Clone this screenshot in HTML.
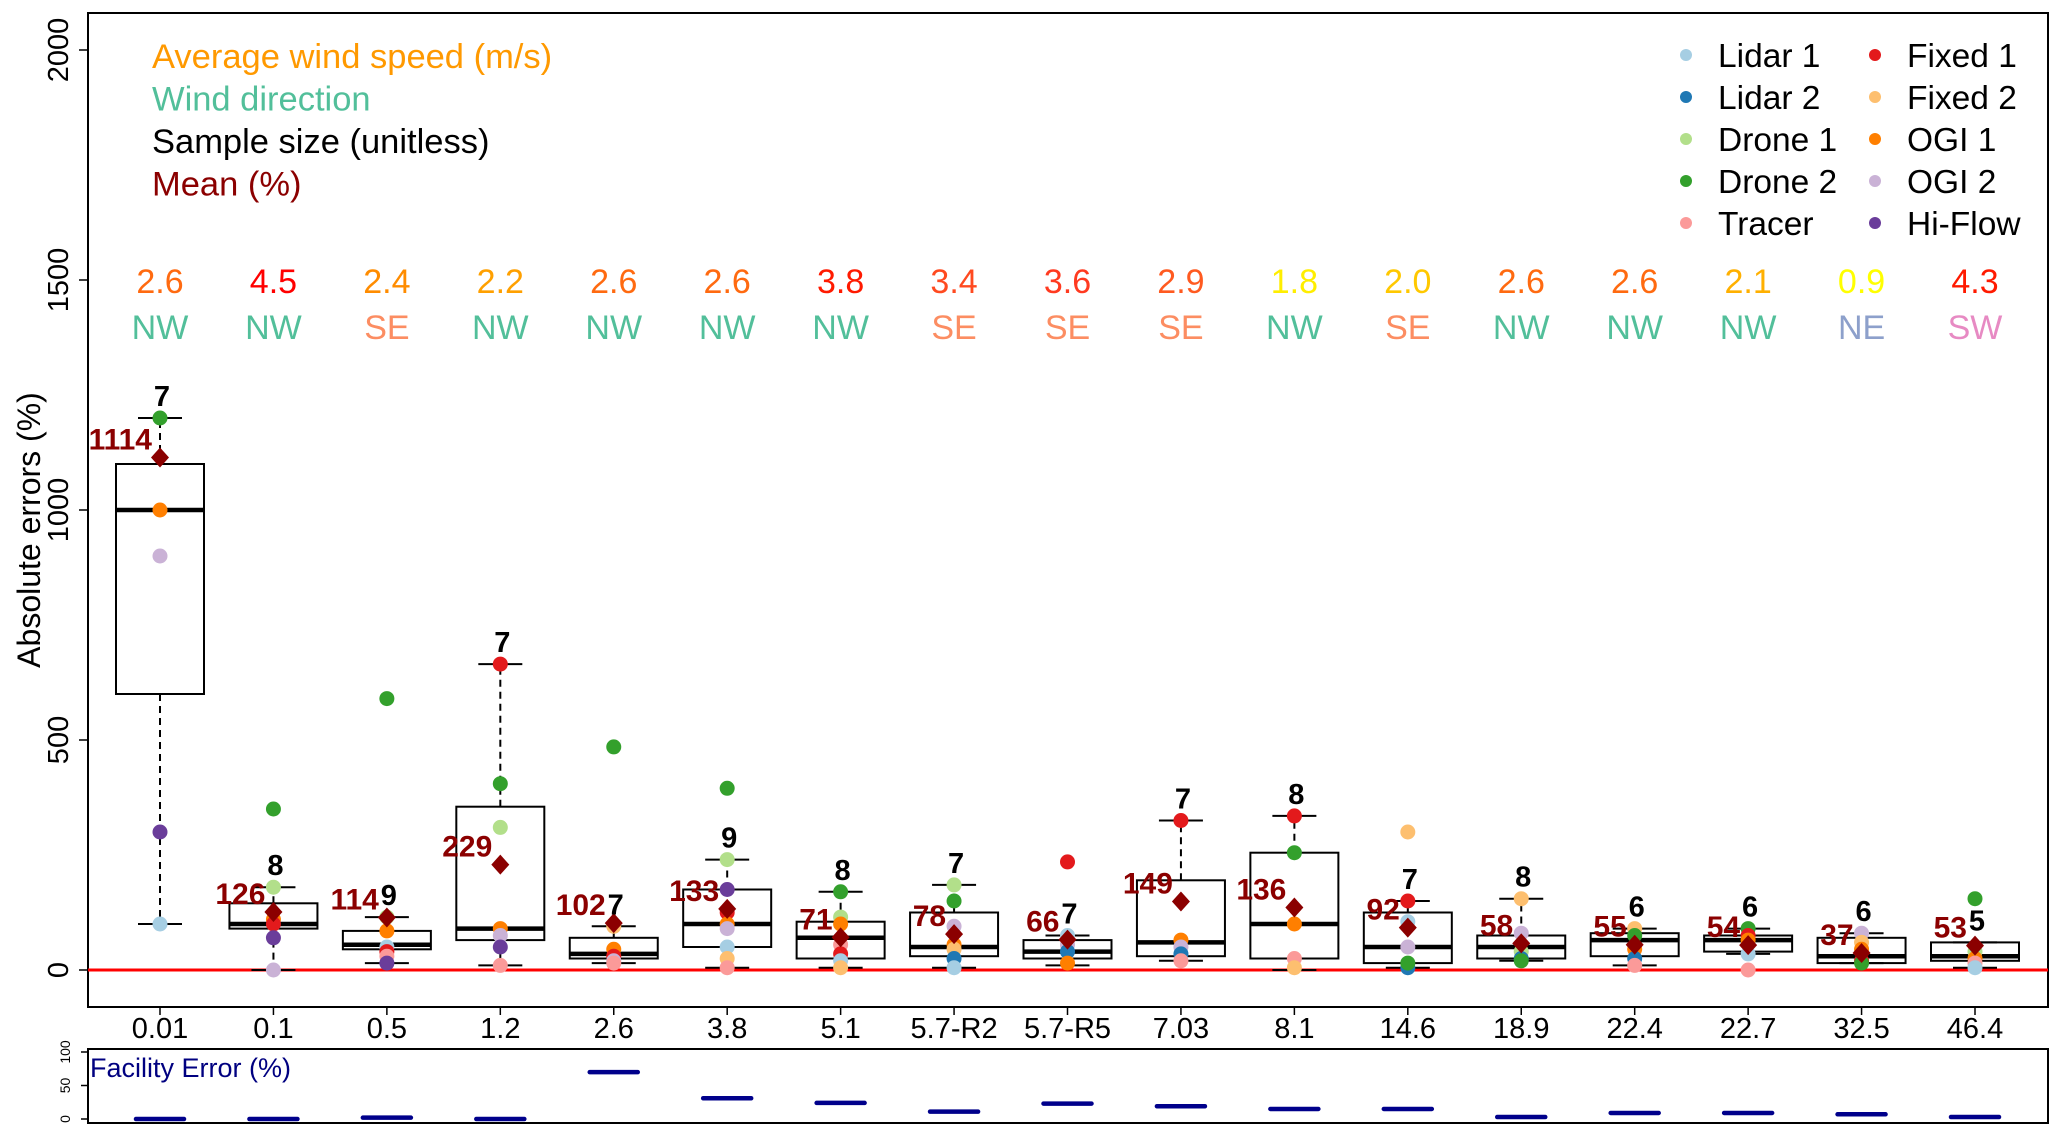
<!DOCTYPE html>
<html><head><meta charset="utf-8"><style>
html,body{margin:0;padding:0;background:#fff;}
svg{display:block;font-family:"Liberation Sans",Arial,sans-serif;}
</style></head><body>
<svg id="chart" width="2067" height="1135" viewBox="0 0 2067 1135" xmlns="http://www.w3.org/2000/svg"></svg>
<script>
const categories=["0.01","0.1","0.5","1.2","2.6","3.8","5.1","5.7-R2","5.7-R5","7.03","8.1","14.6","18.9","22.4","22.7","32.5","46.4"];
const windSpeed=["2.6","4.5","2.4","2.2","2.6","2.6","3.8","3.4","3.6","2.9","1.8","2.0","2.6","2.6","2.1","0.9","4.3"];
const windSpeedColor=["#ff6a10","#ff0000","#ff8c00","#ffa000","#ff6a10","#ff6a10","#ff1a00","#ff4a20","#ff3a20","#ff5a20","#ffee00","#ffc800","#ff6a10","#ff6a10","#ffb000","#ffff00","#ff1a00"];
const windDir=["NW","NW","SE","NW","NW","NW","NW","SE","SE","SE","NW","SE","NW","NW","NW","NE","SW"];
const whiskLo=[100,0,15,10,15,5,5,5,10,20,0,5,20,10,35,15,5];
const q1=[600,90,45,65,25,50,25,30,25,30,25,15,25,30,40,15,20];
const median=[1000,100,55,90,35,100,70,50,40,60,100,50,50,65,65,30,30];
const q3=[1100,145,85,355,70,175,105,125,65,195,255,125,75,80,75,70,60];
const whiskHi=[1200,180,115,665,95,240,170,185,75,325,335,150,155,90,90,80,60];
const means=[1114,126,114,229,102,133,71,78,66,149,136,92,58,55,54,37,53];
const sampleN=[7,8,9,7,7,9,8,7,7,7,8,7,8,6,6,6,5];
const facilityError=[0,0,2,0,70,31,24,11,23,19,15,15,3,9,9,7,3];
const yTicks=[0,500,1000,1500,2000];
const fTicks=[0,50,100];
const methods=["Lidar 1","Lidar 2","Drone 1","Drone 2","Tracer","Fixed 1","Fixed 2","OGI 1","OGI 2","Hi-Flow"];
const methodColors=["#a6cee3","#1f78b4","#b2df8a","#33a02c","#fb9a99","#e31a1c","#fdbf6f","#ff7f00","#cab2d6","#6a3d9a"];
// points: [category index, method index, value]
const pts=[
[0,3,1200],[0,7,1000],[0,8,900],[0,9,300],[0,0,100],
[1,3,350],[1,2,180],[1,7,110],[1,5,100],[1,9,70],[1,8,0],
[2,3,590],[2,2,115],[2,7,85],[2,0,50],[2,5,40],[2,4,30],[2,9,15],
[3,5,665],[3,3,405],[3,2,310],[3,7,90],[3,8,75],[3,9,50],[3,4,10],
[4,3,485],[4,6,95],[4,7,45],[4,5,30],[4,8,20],[4,4,15],
[5,3,395],[5,2,240],[5,9,175],[5,5,125],[5,7,100],[5,8,90],[5,0,50],[5,6,25],[5,4,5],
[6,3,170],[6,2,115],[6,7,100],[6,4,55],[6,5,35],[6,0,20],[6,6,5],
[7,2,185],[7,3,150],[7,8,95],[7,7,55],[7,6,45],[7,1,25],[7,0,5],
[8,5,235],[8,0,75],[8,8,55],[8,1,40],[8,7,15],
[9,5,325],[9,7,65],[9,8,50],[9,1,35],[9,4,20],
[10,5,335],[10,3,255],[10,7,100],[10,4,25],[10,6,5],
[11,6,300],[11,5,150],[11,0,105],[11,8,50],[11,1,5],[11,3,15],
[12,6,155],[12,8,80],[12,2,40],[12,1,25],[12,3,20],
[13,6,90],[13,3,75],[13,7,45],[13,1,25],[13,4,10],
[14,3,90],[14,5,75],[14,7,65],[14,0,35],[14,4,0],
[15,8,80],[15,6,60],[15,7,45],[15,5,20],[15,3,15],
[16,3,155],[16,2,40],[16,7,25],[16,4,15],[16,0,5]
];
const dirColor={NW:"#52bf9a",SE:"#fc8d62",NE:"#8da0cb",SW:"#e78ac3"};
const NS="http://www.w3.org/2000/svg";
const svg=document.getElementById("chart");
function mk(tag,attrs,parent){const e=document.createElementNS(NS,tag);for(const k in attrs)e.setAttribute(k,attrs[k]);(parent||svg).appendChild(e);return e;}
const L=88,R=2048,T=13,B=1007;
const x=i=>160+i*(1975-160)/16;
const y=v=>970-v*0.46;
const fy=v=>1119-v*0.67;

let e;
e=mk("rect",{x:L,y:T,width:R-L,height:B-T,fill:"none",stroke:"#000","stroke-width":2});


yTicks.forEach(t=>{
  e=mk("line",{x1:L-9,x2:L,y1:y(t),y2:y(t),stroke:"#000","stroke-width":1.5});
  
  
  e=mk("text",{x:0,y:0,transform:`translate(68,${y(t)}) rotate(-90)`,"text-anchor":"middle","font-size":29});
  e.textContent=t;
  
  
});
e=mk("text",{transform:"translate(40,530) rotate(-90)","text-anchor":"middle","font-size":32});
e.textContent="Absolute errors (%)";


e=mk("line",{x1:L,x2:R,y1:y(0),y2:y(0),stroke:"#ff0000","stroke-width":3});


categories.forEach((c,i)=>{
  const cx=x(i),hw=44;
  const g=mk("g",{});
  
  
  mk("line",{x1:cx,x2:cx,y1:y(q3[i]),y2:y(whiskHi[i]),stroke:"#000","stroke-width":2,"stroke-dasharray":"7,5"},g);
  mk("line",{x1:cx,x2:cx,y1:y(q1[i]),y2:y(whiskLo[i]),stroke:"#000","stroke-width":2,"stroke-dasharray":"7,5"},g);
  mk("line",{x1:cx-22,x2:cx+22,y1:y(whiskHi[i]),y2:y(whiskHi[i]),stroke:"#000","stroke-width":2},g);
  mk("line",{x1:cx-22,x2:cx+22,y1:y(whiskLo[i]),y2:y(whiskLo[i]),stroke:"#000","stroke-width":2},g);
  mk("rect",{x:cx-hw,y:y(q3[i]),width:2*hw,height:y(q1[i])-y(q3[i]),fill:"none",stroke:"#000","stroke-width":2},g);
  mk("line",{x1:cx-hw,x2:cx+hw,y1:y(median[i]),y2:y(median[i]),stroke:"#000","stroke-width":4.5},g);
  e=mk("line",{x1:cx,x2:cx,y1:B,y2:B+8,stroke:"#000","stroke-width":1.5});
  
  
  e=mk("text",{x:cx,y:1038,"text-anchor":"middle","font-size":29});
  e.textContent=c;
  
  
  e=mk("text",{x:cx,y:293,"text-anchor":"middle","font-size":34,fill:windSpeedColor[i]});
  e.textContent=windSpeed[i];
  
  
  e=mk("text",{x:cx,y:339,"text-anchor":"middle","font-size":34,fill:dirColor[windDir[i]]});
  e.textContent=windDir[i];
  
  
});
pts.forEach(p=>{
  e=mk("circle",{cx:x(p[0]),cy:y(p[2]),r:7.5,fill:methodColors[p[1]]});
  
  
});
categories.forEach((c,i)=>{
  const cx=x(i),my=y(means[i]);
  e=mk("polygon",{points:`${cx},${my-10} ${cx+9},${my} ${cx},${my+10} ${cx-9},${my}`,fill:"#8b0000"});
  
  
  e=mk("text",{x:cx-8,y:my-8,"text-anchor":"end","font-size":30,"font-weight":"bold",fill:"#8b0000"});
  e.textContent=means[i];
  
  
  e=mk("text",{x:cx+2,y:y(whiskHi[i])-12,"text-anchor":"middle","font-size":29,"font-weight":"bold",fill:"#000"});
  e.textContent=sampleN[i];
  
  
});
[["Average wind speed (m/s)","#ff9900"],["Wind direction","#52bf9a"],["Sample size (unitless)","#000"],["Mean (%)","#8b0000"]].forEach((l,k)=>{
  e=mk("text",{x:152,y:68+k*42.5,"font-size":34.5,fill:l[1]});
  e.textContent=l[0];
  
  
});
methods.forEach((m,k)=>{
  const col=Math.floor(k/5),row=k%5;
  const lx=col?1875:1686, ly=55+row*42;
  e=mk("circle",{cx:lx,cy:ly,r:6,fill:methodColors[k]});
  
  
  e=mk("text",{x:lx+32,y:ly+12,"font-size":33.5});
  e.textContent=m;
  
  
});
e=mk("rect",{x:L,y:1049,width:R-L,height:74,fill:"none",stroke:"#000","stroke-width":2});


fTicks.forEach(t=>{
  e=mk("line",{x1:L-7,x2:L,y1:fy(t),y2:fy(t),stroke:"#000","stroke-width":1.5});
  
  
  e=mk("text",{transform:`translate(70,${fy(t)}) rotate(-90)`,"text-anchor":"middle","font-size":14});
  e.textContent=t;
  
  
});
e=mk("text",{x:90,y:1077,"font-size":27,fill:"#000080"});
e.textContent="Facility Error (%)";


facilityError.forEach((v,i)=>{
  e=mk("line",{x1:x(i)-24,x2:x(i)+24,y1:fy(v),y2:fy(v),stroke:"#00008b","stroke-width":4.5,"stroke-linecap":"round"});
  
  
});
</script>
</body></html>
